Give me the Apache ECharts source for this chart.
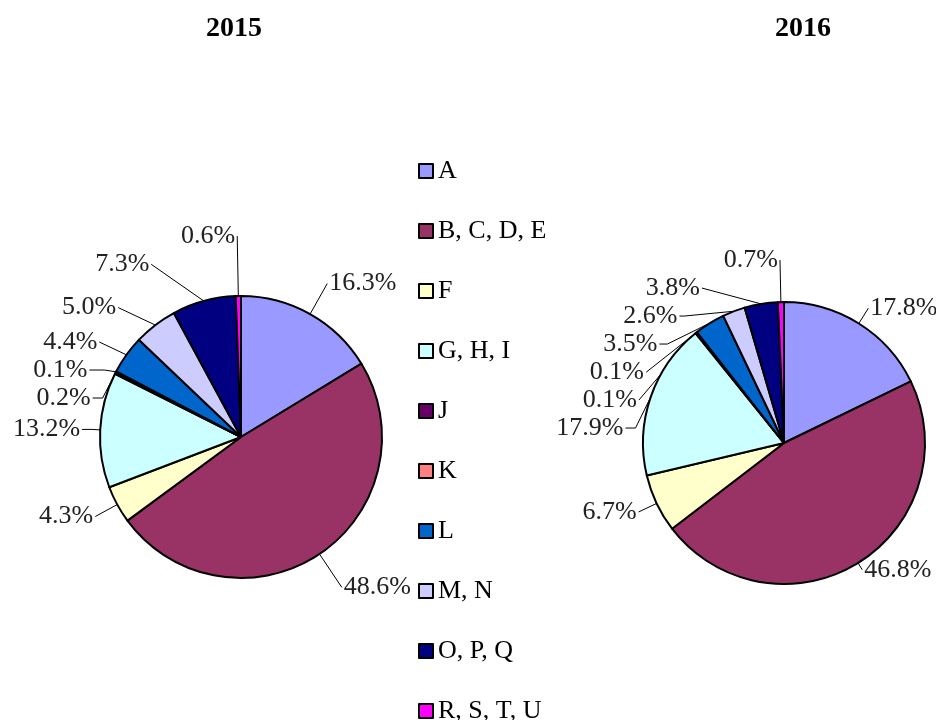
<!DOCTYPE html>
<html><head><meta charset="utf-8">
<script src="https://cdn.jsdelivr.net/npm/echarts@6/dist/echarts.min.js"></script>
<style>html,body{margin:0;padding:0;background:#fff}#c{width:936px;height:720px}</style>
</head><body><div id="c"></div>
<script>
const categories = ['A','B, C, D, E','F','G, H, I','J','K','L','M, N','O, P, Q','R, S, T, U'];
const values2015 = [16.3,48.6,4.3,13.2,0.2,0.1,4.4,5.0,7.3,0.6];
const values2016 = [17.8,46.8,6.7,17.9,0.1,0.1,3.5,2.6,3.8,0.7];
const years = ['2015','2016'];
const colors = ['#9999FF','#993366','#FFFFCC','#CCFFFF','#660066','#FF8080','#0066CC','#CCCCFF','#000080','#FF00FF'];

// label leader-line styling per slice: [length, length2]
const leader2015 = [[35,0],[40,0],[25,0],[10,10],[0,12],[6,15],[22,0],[22,0],[38,0],[60,0]];
const leader2016 = [[18,0],[8,0],[20,0],[10,10],[0,10],[0,10],[0,8],[0,5],[17,0],[42,0]];

const FONT = 'Liberation Serif';
const chart = echarts.init(document.getElementById('c'), null, {renderer:'canvas'});

function mkData(vals, leader){
  return categories.map((n,i)=>({
    name:n, value:vals[i],
    labelLine:{length:leader[i][0], length2:leader[i][1]}
  }));
}
function mkSeries(vals, center, leader){
  return {
    type:'pie',
    center: center,
    radius: 141,
    startAngle: 90,
    clockwise: true,
    avoidLabelOverlap: true,
    minShowLabelAngle: 0,
    data: mkData(vals, leader),
    itemStyle:{borderColor:'#000', borderWidth:2},
    label:{
      show:true, position:'outside',
      formatter: p => p.value.toFixed(1)+'%',
      fontFamily: FONT, fontSize: 26, color:'#222',
      distanceToLabelLine: 2, overflow:'none'
    },
    labelLine:{show:true, lineStyle:{color:'#000', width:1}},
    emphasis:{disabled:true}
  };
}

chart.setOption({
  animation:false,
  color: colors,
  title: [
    {text: years[0], left: 229, top: 10, textAlign:'center', textStyle:{fontFamily:FONT, fontSize:28, fontWeight:'bold', color:'#000'}},
    {text: years[1], left: 798, top: 10, textAlign:'center', textStyle:{fontFamily:FONT, fontSize:28, fontWeight:'bold', color:'#000'}}
  ],
  legend:{
    orient:'vertical', left: 418, top: 158, padding:0, height: 600,
    icon:'rect', itemWidth:14, itemHeight:14, itemGap:34,
    itemStyle:{borderColor:'#000', borderWidth:2},
    textStyle:{fontFamily:FONT, fontSize:26, color:'#000'},
    data: categories
  },
  series:[
    mkSeries(values2015, [241,437], leader2015),
    mkSeries(values2016, [784,443], leader2016)
  ]
});
</script></body></html>
